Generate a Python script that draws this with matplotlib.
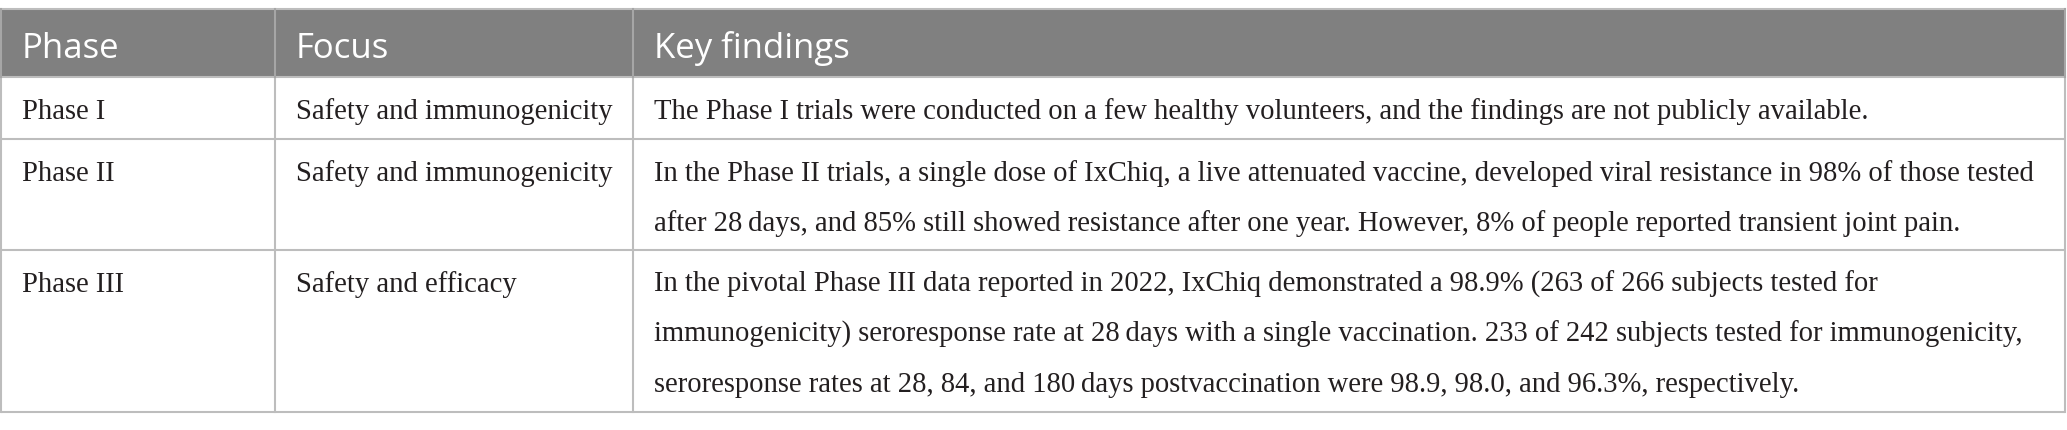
import matplotlib
matplotlib.use("Agg")
import matplotlib.pyplot as plt
from matplotlib.patches import Rectangle

headers = ["Phase", "Focus", "Key findings"]
phases = ["Phase I", "Phase II", "Phase III"]
focus = ["Safety and immunogenicity", "Safety and immunogenicity", "Safety and efficacy"]
findings = [
    ["The Phase I trials were conducted on a few healthy volunteers, and the findings are not publicly available."],
    ["In the Phase II trials, a single dose of IxChiq, a live attenuated vaccine, developed viral resistance in 98% of those tested",
     "after 28\u2009days, and 85% still showed resistance after one year. However, 8% of people reported transient joint pain."],
    ["In the pivotal Phase III data reported in 2022, IxChiq demonstrated a 98.9% (263 of 266 subjects tested for",
     "immunogenicity) seroresponse rate at 28\u2009days with a single vaccination. 233 of 242 subjects tested for immunogenicity,",
     "seroresponse rates at 28, 84, and 180\u2009days postvaccination were 98.9, 98.0, and 96.3%, respectively."],
]

W, H = 2067, 430
DPI = 100
fig = plt.figure(figsize=(W / DPI, H / DPI), dpi=DPI)
ax = fig.add_axes([0, 0, 1, 1])
ax.set_xlim(0, W)
ax.set_ylim(H, 0)
ax.axis("off")

col_edges = [1, 275, 633, 2065]
row_edges = [9, 77, 139, 250, 412]
header_fill = "#808080"
line_col = "#bdbdbd"
text_col = "#231f20"
pad_x = 21
line_gap = 50
first_base = 42  # baseline offset from row top

serif = ["Liberation Serif", "DejaVu Serif"]
sans = ["Open Sans", "DejaVu Sans"]

# header background
ax.add_patch(Rectangle((col_edges[0], row_edges[0]), col_edges[-1] - col_edges[0],
                       row_edges[1] - row_edges[0], facecolor=header_fill, edgecolor="none"))

# body size calibration
renderer = fig.canvas.get_renderer()
probe = ax.text(0, 0, findings[1][0], family=serif, fontsize=20)
wpx = probe.get_window_extent(renderer).width
probe.remove()
body_fs = 20 * 1380 / wpx

for i, h in enumerate(headers):
    ax.text(col_edges[i] + pad_x, 58, h, family=sans, fontsize=25, color="white",
            va="baseline", ha="left")

for r in range(3):
    top = row_edges[r + 1]
    base = top + first_base
    ax.text(col_edges[0] + pad_x, base, phases[r], family=serif, fontsize=body_fs,
            color=text_col, va="baseline")
    ax.text(col_edges[1] + pad_x, base, focus[r], family=serif, fontsize=body_fs,
            color=text_col, va="baseline")
    for k, line in enumerate(findings[r]):
        ax.text(col_edges[2] + pad_x, base + k * line_gap, line, family=serif,
                fontsize=body_fs, color=text_col, va="baseline")

# grid lines
lw = 1.5
for y in row_edges[1:]:
    ax.plot([col_edges[0], col_edges[-1]], [y, y], color=line_col, lw=lw, solid_capstyle="butt")
ax.plot([col_edges[0], col_edges[-1]], [row_edges[0], row_edges[0]], color=line_col, lw=lw)
for x in col_edges:
    ax.plot([x, x], [row_edges[1], row_edges[-1]], color=line_col, lw=lw)
    ax.plot([x, x], [row_edges[0], row_edges[1]], color="#a6a6a6", lw=lw)

fig.savefig("out.png", dpi=DPI, facecolor="white")
